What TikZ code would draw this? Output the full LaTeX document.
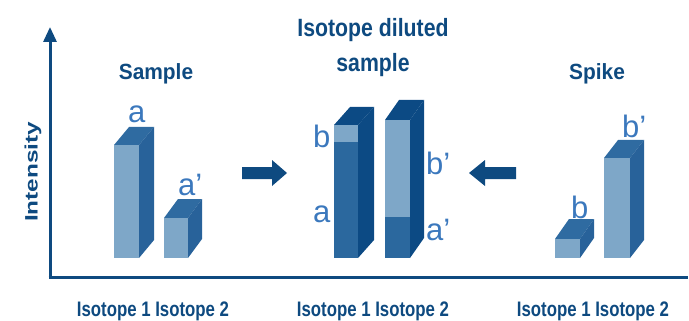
\documentclass[tikz,border=0pt]{standalone}
\usepackage{fontspec}
\setmainfont{Liberation Sans}
\usetikzlibrary{arrows.meta}
\definecolor{axisc}{HTML}{0E4A80}
\definecolor{labc}{HTML}{3B78BD}
\definecolor{lightf}{HTML}{7EA7C8}
\definecolor{stop}{HTML}{2F6BA1}
\definecolor{sside}{HTML}{28629A}
\definecolor{dtop}{HTML}{0C4A84}
\definecolor{dfront}{HTML}{2B689E}
\newcommand\cubo[9]{%
  \fill[#8] (#1,#3) -- (#1+#5,#3-#6) -- (#2+#5,#3-#6) -- (#2,#3) -- cycle;
  \fill[#9] (#2,#3) -- (#2+#5,#3-#6) -- (#2+#5,#4-#6) -- (#2,#4) -- cycle;
  \fill[#7] (#1,#3) rectangle (#2,#4);}
\begin{document}
\begin{tikzpicture}[x=1pt,y=-1pt,
  title/.style={font=\bfseries\fontsize{22}{24}\selectfont,text=axisc,inner sep=0pt,anchor=base},
  isolab/.style={font=\bfseries\fontsize{21}{24}\selectfont,text=axisc,inner sep=0pt},
  peak/.style={font=\fontsize{31}{34}\selectfont,text=labc,inner sep=0pt,anchor=base west},
  axisline/.style={draw=axisc,line width=3pt},
  blockarrow/.style={fill=axisc}]
\useasboundingbox (0,0) rectangle (689,321);
% axes
\coordinate (origin) at (50,277);
\coordinate (ytop) at (50,27);
\coordinate (xend) at (688,277);
\draw[axisline,-{Triangle[length=15pt,width=13pt]}] (origin) -- (ytop);
\draw[axisline] (48.5,277) -- (xend);
\node[inner sep=0pt,text=axisc] (intensity) at (33,172)
  {\rotatebox{90}{\scalebox{1.35}[1]{\bfseries\fontsize{18}{20}\selectfont Intensity}}};
% titles
\node[title] (sample) at (156,80) {\scalebox{0.95}[1]{Sample}};
\node[title,anchor=center,font=\bfseries\fontsize{25}{35}\selectfont] (diluted) at (373,47)
  {\scalebox{0.85}[1]{\begin{tabular}{@{}c@{}}Isotope diluted\\[-0.5pt]sample\end{tabular}}};
\node[title] (spike) at (597,80) {\scalebox{0.95}[1]{Spike}};
% bottom labels
\node[isolab] (iso1) at (153,311) {\scalebox{0.8}[1]{Isotope 1 Isotope 2}};
\node[isolab] (iso2) at (373,311) {\scalebox{0.8}[1]{Isotope 1 Isotope 2}};
\node[isolab] (iso3) at (593,311) {\scalebox{0.8}[1]{Isotope 1 Isotope 2}};
% sample bars
\cubo{114}{139}{145}{258}{15}{18}{lightf}{stop}{sside}
\cubo{164}{188}{218}{258}{14}{19}{lightf}{stop}{sside}
% spike bars
\cubo{555}{580}{239}{258}{14}{20}{lightf}{stop}{sside}
\cubo{604}{630}{158}{258}{14}{18}{lightf}{stop}{sside}
% diluted bars
\cubo{334}{358}{125}{258}{16}{18}{dfront}{dtop}{dtop}
\fill[lightf] (334,125) rectangle (358,142);
\cubo{385}{410}{120}{258}{14}{20}{dfront}{dtop}{dtop}
\fill[lightf] (385,120) rectangle (410,217);
% block arrows
\fill[blockarrow] (242,167) -- (272,167) -- (272,160) -- (287,173) -- (272,186) -- (272,179) -- (242,179) -- cycle;
\fill[blockarrow] (516,167) -- (485,167) -- (485,160) -- (469,173) -- (485,186) -- (485,179) -- (516,179) -- cycle;
% peak labels
\node[peak] (la) at (128,123) {a};
\node[peak] (lap) at (178,195) {a’};
\node[peak] (mb) at (313,147) {b};
\node[peak] (ma) at (313,222) {a};
\node[peak] (mbp) at (426,175) {b’};
\node[peak] (map) at (426,240) {a’};
\node[peak] (sb) at (571,218) {b};
\node[peak] (sbp) at (622,138) {b’};
\end{tikzpicture}
\end{document}
